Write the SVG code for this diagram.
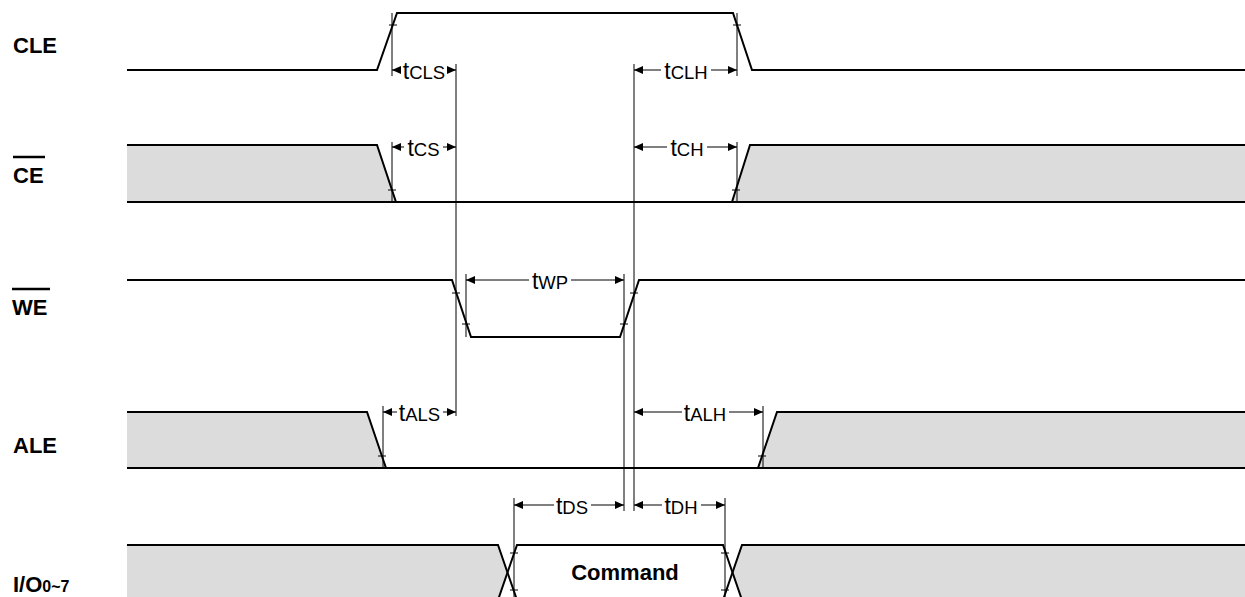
<svg xmlns="http://www.w3.org/2000/svg" width="1245" height="597" viewBox="0 0 1245 597">
<defs>
<marker id="ah" markerWidth="10" markerHeight="8" refX="9" refY="4" orient="auto" markerUnits="userSpaceOnUse">
<path d="M0,0 L9,4 L0,8 z" fill="#000"/>
</marker>
<style>
.sig{fill:none;stroke:#000;stroke-width:2;stroke-linejoin:miter}
.gray{fill:#dcdcdc;stroke:none}
.thin{stroke:#000;stroke-width:1;fill:none}
.arr{stroke:#000;stroke-width:1;fill:none;marker-end:url(#ah)}
.lbl{font-family:"Liberation Sans",Arial,sans-serif;font-weight:bold;font-size:22px;fill:#000}
.tm{font-family:"Liberation Sans",Arial,sans-serif;font-size:23px;fill:#000}
.sub{font-size:18.5px}
</style>
</defs>
<rect width="1245" height="597" fill="#fff"/>

<g id="label-CLE"><text class="lbl" x="13" y="53">CLE</text></g>
<g id="label-CE"><line x1="13" y1="157" x2="45" y2="157" stroke="#000" stroke-width="2.5"/><text class="lbl" x="13" y="183">CE</text></g>
<g id="label-WE"><line x1="12" y1="289" x2="50" y2="289" stroke="#000" stroke-width="2.5"/><text class="lbl" x="12" y="315">WE</text></g>
<g id="label-ALE"><text class="lbl" x="13" y="453">ALE</text></g>
<g id="label-IO"><text class="lbl" x="13" y="592">I/O<tspan font-size="16">0~7</tspan></text></g>

<g id="signal-CLE">
<path class="sig" d="M127,70 L377,70 L397,13 L733,13 L752,70 L1245,70"/>
</g>
<g id="signal-CE">
<polygon class="gray" points="127,145 377,145 396,202 127,202"/>
<polygon class="gray" points="750,145 1245,145 1245,202 732,202"/>
<path class="sig" d="M127,145 L377,145 L396,202 L732,202 L750,145 L1245,145"/>
<line class="sig" x1="127" y1="202" x2="396" y2="202"/>
<line class="sig" x1="732" y1="202" x2="1245" y2="202"/>
</g>
<g id="signal-WE">
<path class="sig" d="M127,280 L452,280 L471,337 L620,337 L639,280 L1245,280"/>
</g>
<g id="signal-ALE">
<polygon class="gray" points="127,412 367,412 386,468 127,468"/>
<polygon class="gray" points="777,412 1245,412 1245,468 758,468"/>
<path class="sig" d="M127,412 L367,412 L386,468 L758,468 L777,412 L1245,412"/>
<line class="sig" x1="127" y1="468" x2="1245" y2="468"/>
</g>
<g id="signal-IO">
<polygon class="gray" points="127,545 498,545 507.5,572.5 498,600 127,600"/>
<polygon class="gray" points="742,545 1245,545 1245,600 742,600 732.5,572.5"/>
<path class="sig" d="M127,545 L498,545 L517,600"/>
<path class="sig" d="M498,600 L517,545 L723,545 L742,600"/>
<path class="sig" d="M723,600 L742,545 L1245,545"/>
<text class="lbl" x="625" y="580" text-anchor="middle" font-size="23">Command</text>
</g>

<g id="connectors">
<line class="thin" x1="392" y1="13" x2="392" y2="76"/>
<line class="thin" x1="392" y1="142" x2="392" y2="202"/>
<line class="thin" x1="456" y1="64" x2="456" y2="416"/>
<line class="thin" x1="634" y1="64" x2="634" y2="511"/>
<line class="thin" x1="737" y1="13" x2="737" y2="76"/>
<line class="thin" x1="737" y1="142" x2="737" y2="202"/>
<line class="thin" x1="466" y1="274" x2="466" y2="337"/>
<line class="thin" x1="624" y1="274" x2="624" y2="511"/>
<line class="thin" x1="383" y1="406" x2="383" y2="468"/>
<line class="thin" x1="763" y1="406" x2="763" y2="468"/>
<line class="thin" x1="514" y1="498" x2="514" y2="597"/>
<line class="thin" x1="725" y1="498" x2="725" y2="597"/>
<line class="thin" x1="389" y1="25" x2="397" y2="25"/>
<line class="thin" x1="733" y1="25" x2="741" y2="25"/>
<line class="thin" x1="388" y1="190" x2="396" y2="190"/>
<line class="thin" x1="732" y1="190" x2="740" y2="190"/>
<line class="thin" x1="452" y1="293" x2="460" y2="293"/>
<line class="thin" x1="462" y1="324" x2="470" y2="324"/>
<line class="thin" x1="620" y1="324" x2="628" y2="324"/>
<line class="thin" x1="630" y1="293" x2="638" y2="293"/>
<line class="thin" x1="378" y1="456" x2="386" y2="456"/>
<line class="thin" x1="758" y1="456" x2="766" y2="456"/>
<line class="thin" x1="510" y1="553" x2="518" y2="553"/>
<line class="thin" x1="510" y1="590" x2="518" y2="590"/>
<line class="thin" x1="721" y1="553" x2="729" y2="553"/>
<line class="thin" x1="721" y1="590" x2="729" y2="590"/>
<line class="arr" x1="401" y1="70" x2="392" y2="70"/>
<line class="arr" x1="447" y1="70" x2="456" y2="70"/>
<line class="arr" x1="661" y1="70" x2="634" y2="70"/>
<line class="arr" x1="711" y1="70" x2="737" y2="70"/>
<line class="arr" x1="404" y1="147" x2="392" y2="147"/>
<line class="arr" x1="443" y1="147" x2="456" y2="147"/>
<line class="arr" x1="667" y1="147" x2="634" y2="147"/>
<line class="arr" x1="707" y1="147" x2="737" y2="147"/>
<line class="arr" x1="529" y1="280" x2="466" y2="280"/>
<line class="arr" x1="571" y1="280" x2="624" y2="280"/>
<line class="arr" x1="397" y1="412" x2="383" y2="412"/>
<line class="arr" x1="443" y1="412" x2="456" y2="412"/>
<line class="arr" x1="682" y1="412" x2="634" y2="412"/>
<line class="arr" x1="729" y1="412" x2="763" y2="412"/>
<line class="arr" x1="554" y1="505" x2="514" y2="505"/>
<line class="arr" x1="591" y1="505" x2="624" y2="505"/>
<line class="arr" x1="662" y1="505" x2="634" y2="505"/>
<line class="arr" x1="701" y1="505" x2="725" y2="505"/>
</g>

<g id="timing-labels">
<text class="tm" x="424" y="79" text-anchor="middle">t<tspan class="sub">CLS</tspan></text>
<text class="tm" x="686" y="79" text-anchor="middle">t<tspan class="sub">CLH</tspan></text>
<text class="tm" x="423.5" y="156" text-anchor="middle">t<tspan class="sub">CS</tspan></text>
<text class="tm" x="687" y="156" text-anchor="middle">t<tspan class="sub">CH</tspan></text>
<text class="tm" x="550" y="289" text-anchor="middle">t<tspan class="sub">WP</tspan></text>
<text class="tm" x="419.5" y="421" text-anchor="middle">t<tspan class="sub">ALS</tspan></text>
<text class="tm" x="705" y="421" text-anchor="middle">t<tspan class="sub">ALH</tspan></text>
<text class="tm" x="572" y="514" text-anchor="middle">t<tspan class="sub">DS</tspan></text>
<text class="tm" x="681" y="514" text-anchor="middle">t<tspan class="sub">DH</tspan></text>
</g>
</svg>
